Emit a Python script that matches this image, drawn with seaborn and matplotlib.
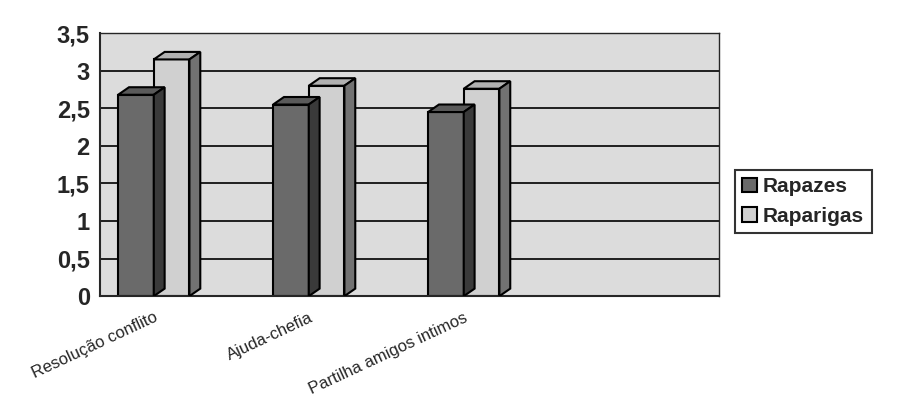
import seaborn as sns
import matplotlib.pyplot as plt
import matplotlib.ticker as mticker
from matplotlib.patches import Polygon
import pandas as pd
import numpy as np

categories = ["Resolução conflito", "Ajuda-chefia", "Partilha amigos intimos", " "]
rapazes = [2.68, 2.55, 2.45, np.nan]
raparigas = [3.15, 2.80, 2.76, np.nan]
series = ["Rapazes", "Raparigas"]

df = pd.DataFrame({
    "categoria": categories * 2,
    "valor": rapazes + raparigas,
    "grupo": [series[0]] * len(categories) + [series[1]] * len(categories),
})

sns.set_style("white")
plt.rcParams['font.family'] = ['Liberation Sans', 'DejaVu Sans']

fig, ax = plt.subplots(figsize=(9.05, 4.04), dpi=100)
fig.subplots_adjust(left=0.11, right=0.795, bottom=0.267, top=0.918)

palette = {"Rapazes": "#6a6a6a", "Raparigas": "#d0d0d0"}
sns.barplot(data=df, x="categoria", y="valor", hue="grupo", palette=palette,
            width=0.46, edgecolor="black", linewidth=1.5, saturation=1, ax=ax)

# fake 3D depth on each bar
dx, dy = 0.07, 0.1
for bar in ax.patches:
    h = bar.get_height()
    if not np.isfinite(h) or h == 0:
        continue
    x0 = bar.get_x()
    x1 = x0 + bar.get_width()
    base = bar.get_facecolor()
    top_col = tuple(min(1, c * 0.85) for c in base[:3])
    side_col = tuple(c * 0.55 for c in base[:3])
    ax.add_patch(Polygon([(x0, h), (x0 + dx, h + dy), (x1 + dx, h + dy), (x1, h)],
                         closed=True, facecolor=top_col, edgecolor="black", lw=1.5, zorder=3))
    ax.add_patch(Polygon([(x1, 0), (x1 + dx, dy), (x1 + dx, h + dy), (x1, h)],
                         closed=True, facecolor=side_col, edgecolor="black", lw=1.5, zorder=3))

ax.set_facecolor("#dcdcdc")
ax.set_ylim(0, 3.5)
shift = 0.15
ax.set_xlim(-0.5 + shift, len(categories) - 0.5 + shift)
ax.yaxis.set_major_locator(mticker.MultipleLocator(0.5))
ax.yaxis.set_major_formatter(mticker.FuncFormatter(lambda v, p: f"{v:g}".replace(".", ",")))
ax.grid(axis="y", color="black", linewidth=1.2)
ax.set_axisbelow(True)

ax.set_xticks(np.arange(len(categories) + 1) - 0.5 + shift, minor=True)
ax.set_xticks(range(len(categories)))
ax.set_xticklabels(categories, rotation=25, ha="right", rotation_mode="anchor", fontsize=12)
ax.tick_params(axis="x", which="major", length=0, pad=10)
ax.tick_params(axis="x", which="minor", length=7, width=1.5, direction="inout")
ax.tick_params(axis="y", length=7, width=1.5, direction="inout", labelsize=17)
for lbl in ax.get_yticklabels():
    lbl.set_fontweight("bold")

for side in ["left", "bottom"]:
    ax.spines[side].set_linewidth(1.5)
for side in ["top", "right"]:
    ax.spines[side].set_linewidth(1.0)
ax.set_xlabel("")
ax.set_ylabel("")

leg = ax.legend(loc="center left", bbox_to_anchor=(1.025, 0.36), frameon=True,
                fancybox=False, edgecolor="black", prop={"weight": "bold", "size": 15},
                handlelength=0.7, handleheight=0.7, handletextpad=0.3, borderpad=0.35,
                labelspacing=0.5, borderaxespad=0)
leg.get_frame().set_linewidth(1.5)

fig.savefig("out.png", dpi=100)
